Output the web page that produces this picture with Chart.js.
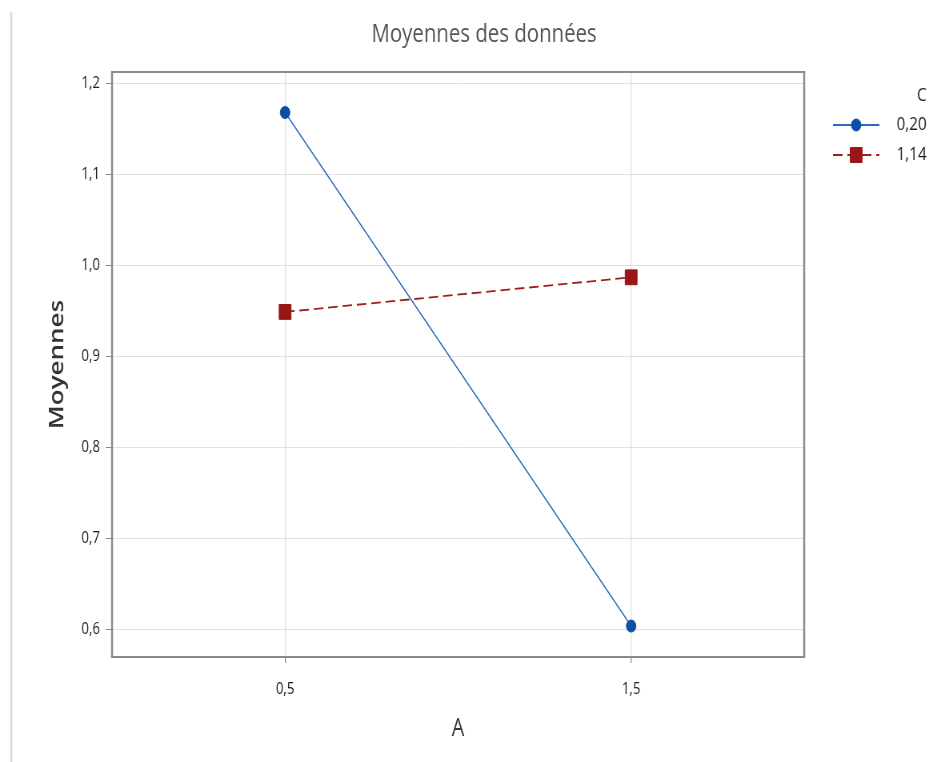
<!DOCTYPE html>
<html lang="fr">
<head>
<meta charset="utf-8">
<title>Moyennes des données</title>
<script src="https://cdn.jsdelivr.net/npm/chart.js@4.4.1/dist/chart.umd.min.js"></script>
<style>
  html, body { margin: 0; padding: 0; background: #fff; overflow: hidden; }
  /* the drawing is laid out on a wider canvas and narrowed horizontally */
  #wrap { position: absolute; left: 0; top: 0; width: 1186px; height: 762px;
          transform: scaleX(0.80017); transform-origin: 0 0; }
  canvas { display: block; }
</style>
</head>
<body>
<div id="wrap"><canvas id="chart" width="1186" height="762"></canvas></div>
<script>
// Facteur A (axe horizontal)
const aLevels = [0.5, 1.5];
const aTickLabels = ['0,5', '1,5'];

// Moyennes par niveau de C
const cLabels = ['0,20', '1,14'];
const meansC020 = [1.168, 0.604];
const meansC114 = [0.949, 0.987];

// Graduations de l'axe vertical
const yTickValues = [0.6, 0.7, 0.8, 0.9, 1.0, 1.1, 1.2];
const yTickLabels = ['0,6', '0,7', '0,8', '0,9', '1,0', '1,1', '1,2'];

const FONT = '"Open Sans", "Noto Sans", sans-serif';

const toPoints = (vals) => aLevels.map((a, i) => ({ x: a, y: vals[i] }));

const frameAndText = {
  id: 'frameAndText',
  beforeDraw(chart) {
    const ctx = chart.ctx;
    ctx.save();
    // thin page rule on the left
    ctx.strokeStyle = '#dadada';
    ctx.lineWidth = 2.5;
    ctx.beginPath();
    ctx.moveTo(14, 12);
    ctx.lineTo(14, 762);
    ctx.stroke();
    // subtitle
    ctx.fillStyle = '#555';
    ctx.font = '25.5px ' + FONT;
    ctx.textAlign = 'center';
    ctx.textBaseline = 'middle';
    ctx.fillText('Moyennes des données', 605, 35);
    ctx.restore();
  },
  afterDraw(chart) {
    const ctx = chart.ctx;
    const a = chart.chartArea;
    ctx.save();
    ctx.strokeStyle = '#8a8a8a';
    // horizontal edges
    ctx.lineWidth = 2;
    ctx.beginPath();
    ctx.moveTo(a.left - 1.25, a.top); ctx.lineTo(a.right + 1.25, a.top);
    ctx.moveTo(a.left - 1.25, a.bottom); ctx.lineTo(a.right + 1.25, a.bottom);
    ctx.stroke();
    // vertical edges
    ctx.lineWidth = 2.5;
    ctx.beginPath();
    ctx.moveTo(a.left, a.top); ctx.lineTo(a.left, a.bottom);
    ctx.moveTo(a.right, a.top); ctx.lineTo(a.right, a.bottom);
    ctx.stroke();

    // legend
    const right = 1158;
    ctx.fillStyle = '#222';
    ctx.font = '19px ' + FONT;
    ctx.textAlign = 'right';
    ctx.textBaseline = 'middle';
    ctx.fillText('C', right, 96);
    const rows = [125, 155];
    chart.data.datasets.forEach((ds, i) => {
      const y = rows[i];
      ctx.save();
      ctx.strokeStyle = ds.borderColor;
      ctx.lineWidth = 2;
      ctx.setLineDash(ds.borderDash || []);
      ctx.beginPath();
      ctx.moveTo(1041, y); ctx.lineTo(1099, y);
      ctx.stroke();
      ctx.restore();
      ctx.save();
      ctx.fillStyle = ds.pointBackgroundColor;
      ctx.strokeStyle = ds.pointBorderColor;
      ctx.lineWidth = 1;
      Chart.helpers.drawPoint(ctx, { pointStyle: ds.pointStyle, radius: ds.pointRadius, rotation: 0, borderWidth: 1 }, 1070, y);
      ctx.restore();
      ctx.fillStyle = '#222';
      ctx.fillText(ds.label, right, y);
    });
    ctx.restore();
  }
};

new Chart(document.getElementById('chart'), {
  type: 'line',
  data: {
    datasets: [
      {
        label: cLabels[0],
        data: toPoints(meansC020),
        borderColor: '#2b6cbd',
        borderWidth: 1.4,
        pointStyle: 'circle',
        pointRadius: 6,
        pointBackgroundColor: '#0b4ea2',
        pointBorderColor: '#0b4ea2',
        pointBorderWidth: 1,
        tension: 0
      },
      {
        label: cLabels[1],
        data: toPoints(meansC114),
        borderColor: '#a01e1e',
        borderWidth: 1.8,
        borderDash: [12, 6],
        pointStyle: 'rect',
        pointRadius: 10.5,
        pointBackgroundColor: '#981616',
        pointBorderColor: '#981616',
        pointBorderWidth: 1,
        tension: 0
      }
    ]
  },
  options: {
    responsive: false,
    animation: false,
    events: [],
    layout: { padding: { top: 72, left: 0, right: 181, bottom: 0 } },
    plugins: {
      legend: { display: false },
      title: { display: false },
      tooltip: { enabled: false }
    },
    scales: {
      x: {
        type: 'linear',
        min: 0,
        max: 2,
        afterFit(scale) { scale.height = 105; },
        afterBuildTicks(scale) { scale.ticks = aLevels.map(v => ({ value: v })); },
        ticks: {
          autoSkip: false,
          maxRotation: 0,
          padding: 16,
          color: '#1a1a1a',
          font: { family: FONT, size: 16.5 },
          callback: (v, i) => aTickLabels[i]
        },
        grid: {
          color: '#e0e0e0',
          lineWidth: 1.3,
          tickColor: '#8a8a8a',
          tickLength: 6,
          tickWidth: 1.3
        },
        border: { display: false },
        title: {
          display: true,
          text: 'A',
          color: '#333',
          font: { family: FONT, size: 25 },
          padding: { top: 0, bottom: 18 }
        }
      },
      y: {
        type: 'linear',
        min: 0.57,
        max: 1.2125,
        afterFit(scale) { scale.width = 140; },
        afterBuildTicks(scale) { scale.ticks = yTickValues.map(v => ({ value: v })); },
        ticks: {
          autoSkip: false,
          padding: 7,
          color: '#1a1a1a',
          font: { family: FONT, size: 16.5 },
          callback: (v, i) => yTickLabels[i]
        },
        grid: {
          color: '#e0e0e0',
          lineWidth: 1,
          tickColor: '#8a8a8a',
          tickLength: 8,
          tickWidth: 1
        },
        border: { display: false },
        title: {
          display: true,
          text: 'Moyennes',
          color: '#333',
          font: { family: FONT, size: 26, weight: '600' },
          padding: { top: 56, bottom: 0 }
        }
      }
    }
  },
  plugins: [frameAndText]
});
</script>
</body>
</html>
